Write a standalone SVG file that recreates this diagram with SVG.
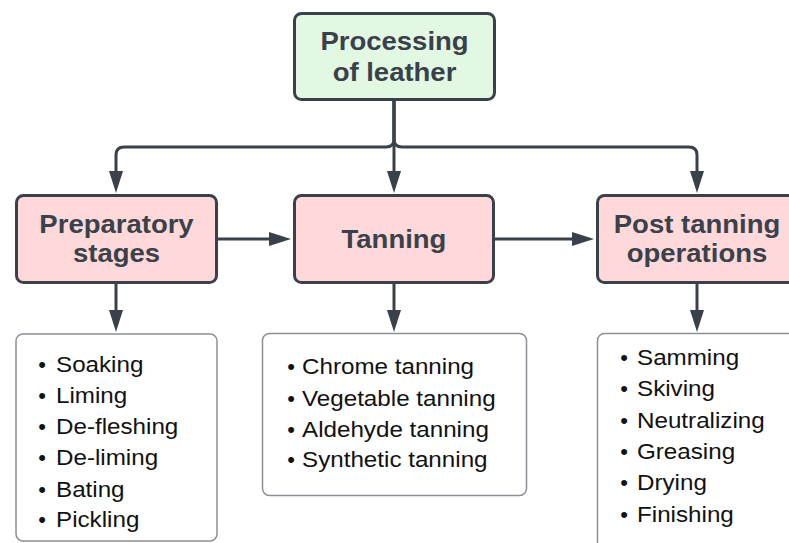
<svg xmlns="http://www.w3.org/2000/svg" width="789" height="543" viewBox="0 0 789 543">
<style>
.hdr{stroke:#3a414b;stroke-width:3}
.pink{fill:#ffd9d9}
.green{fill:#e3f8e3}
.list{fill:#ffffff;stroke:#8b9098;stroke-width:1.5}
.conn{fill:none;stroke:#3a414b;stroke-width:3}
.ht{font-family:"Liberation Sans",Arial,sans-serif;font-weight:bold;font-size:25px;fill:#3a414b;text-anchor:middle}
.lt{font-family:"Liberation Sans",Arial,sans-serif;font-size:22px;fill:#111111}
.bul{font-family:"Liberation Sans",Arial,sans-serif;font-size:22px;fill:#111111;text-anchor:middle}
</style>
<defs>
<marker id="arr" markerUnits="userSpaceOnUse" viewBox="0 0 22 14" refX="10" refY="7" markerWidth="22" markerHeight="14" orient="auto">
<path d="M0,0 L22,7 L0,14 Z" fill="#3a414b"/>
</marker>
</defs>
<rect width="789" height="543" fill="#ffffff"/>
<g id="connectors">
<path class="conn" d="M394,101 V139 Q394,147 386,147 H124 Q116,147 116,155 V181" marker-end="url(#arr)"/>
<path class="conn" d="M394,101 V181" marker-end="url(#arr)"/>
<path class="conn" d="M394,101 V139 Q394,147 402,147 H689 Q697,147 697,155 V181" marker-end="url(#arr)"/>
<path class="conn" d="M218,239 H279" marker-end="url(#arr)"/>
<path class="conn" d="M495,239 H582" marker-end="url(#arr)"/>
<path class="conn" d="M116,284 V320" marker-end="url(#arr)"/>
<path class="conn" d="M394,284 V320" marker-end="url(#arr)"/>
<path class="conn" d="M697,284 V320" marker-end="url(#arr)"/>
</g>
<g id="processing">
<rect class="hdr green" x="294.5" y="13.5" width="200" height="86" rx="7"/>
<text class="ht" transform="translate(394.5,50) scale(1.1,1)">Processing</text>
<text class="ht" transform="translate(394.5,80.5) scale(1.1,1)">of leather</text>
</g>
<g id="preparatory">
<rect class="hdr pink" x="16.5" y="195.5" width="200" height="87" rx="7"/>
<text class="ht" transform="translate(116.5,232.5) scale(1.1,1)">Preparatory</text>
<text class="ht" transform="translate(116.5,262) scale(1.1,1)">stages</text>
</g>
<g id="tanning">
<rect class="hdr pink" x="294.5" y="195.5" width="199" height="87" rx="7"/>
<text class="ht" transform="translate(394,247.5) scale(1.1,1)">Tanning</text>
</g>
<g id="post">
<rect class="hdr pink" x="597.5" y="195.5" width="200" height="87" rx="7"/>
<text class="ht" transform="translate(697,232.5) scale(1.1,1)">Post tanning</text>
<text class="ht" transform="translate(697,262) scale(1.1,1)">operations</text>
</g>
<g id="prep-list">
<rect class="list" x="16" y="334" width="201" height="207" rx="7"/>
<text class="bul" x="42" y="371.5">•</text><text class="lt" transform="translate(56,371.5) scale(1.1,1)">Soaking</text>
<text class="bul" x="42" y="402.7">•</text><text class="lt" transform="translate(56,402.7) scale(1.1,1)">Liming</text>
<text class="bul" x="42" y="434">•</text><text class="lt" transform="translate(56,434) scale(1.1,1)">De-fleshing</text>
<text class="bul" x="42" y="465">•</text><text class="lt" transform="translate(56,465) scale(1.1,1)">De-liming</text>
<text class="bul" x="42" y="496.5">•</text><text class="lt" transform="translate(56,496.5) scale(1.1,1)">Bating</text>
<text class="bul" x="42" y="527">•</text><text class="lt" transform="translate(56,527) scale(1.1,1)">Pickling</text>
</g>
<g id="tan-list">
<rect class="list" x="262.5" y="333.5" width="264" height="162" rx="7"/>
<text class="bul" x="291" y="374.3">•</text><text class="lt" transform="translate(302,374.3) scale(1.1,1)">Chrome tanning</text>
<text class="bul" x="291" y="405.5">•</text><text class="lt" transform="translate(302,405.5) scale(1.1,1)">Vegetable tanning</text>
<text class="bul" x="291" y="436.5">•</text><text class="lt" transform="translate(302,436.5) scale(1.1,1)">Aldehyde tanning</text>
<text class="bul" x="291" y="467">•</text><text class="lt" transform="translate(302,467) scale(1.1,1)">Synthetic tanning</text>
</g>
<g id="post-list">
<rect class="list" x="597.5" y="333.5" width="210" height="220" rx="7"/>
<text class="bul" x="624" y="365">•</text><text class="lt" transform="translate(637,365) scale(1.1,1)">Samming</text>
<text class="bul" x="624" y="396.3">•</text><text class="lt" transform="translate(637,396.3) scale(1.1,1)">Skiving</text>
<text class="bul" x="624" y="427.5">•</text><text class="lt" transform="translate(637,427.5) scale(1.1,1)">Neutralizing</text>
<text class="bul" x="624" y="458.7">•</text><text class="lt" transform="translate(637,458.7) scale(1.1,1)">Greasing</text>
<text class="bul" x="624" y="490">•</text><text class="lt" transform="translate(637,490) scale(1.1,1)">Drying</text>
<text class="bul" x="624" y="521.5">•</text><text class="lt" transform="translate(637,521.5) scale(1.1,1)">Finishing</text>
</g>
</svg>
